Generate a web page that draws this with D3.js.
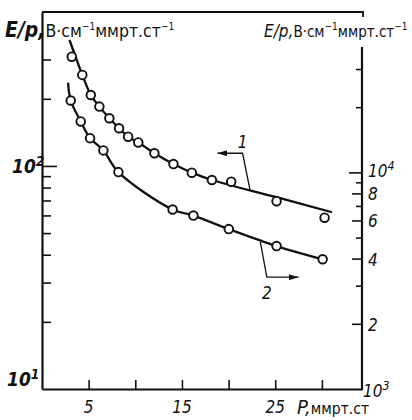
<!DOCTYPE html>
<html><head><meta charset="utf-8">
<script src="https://cdn.jsdelivr.net/npm/d3@7"></script>
<style>
html,body{margin:0;padding:0;background:#fff;}
svg{display:block;}
text{font-family:'Liberation Sans Narrow','DejaVu Sans Condensed','Liberation Sans',sans-serif;fill:#111;}
</style></head><body>
<svg id="chart" width="412" height="420"></svg>
<script>
// Curve 1: E/p read against the left axis; pressure in mm Hg
const pressure1 = [3.19, 4.32, 5.23, 6.15, 7.22, 8.26, 9.23, 10.32, 12.05, 14.09, 16.06, 18.21, 20.28, 25.14, 30.29];
const ePerP1   = [309, 256, 208, 184.5, 163.6, 147.6, 135.3, 127.5, 114, 102, 93.3, 86.5, 85, 69.5, 58.6];
// smooth hand-fitted line through curve 1
const fitP1 = [2.95, 4.32, 5.23, 6.15, 7.22, 8.26, 9.23, 10.32, 12.05, 14.09, 16.06, 18.21, 25.14, 31.08];
const fitE1 = [367, 256, 208, 184.5, 163.6, 147.6, 135.3, 127.5, 114, 102, 93.3, 86.5, 72.4, 62.0];

// Curve 2: E/p read against the right axis
const pressure2 = [3.08, 4.15, 5.15, 6.58, 8.19, 14.0, 16.23, 20.02, 25.14, 30.08];
const ePerP2   = [21470, 17180, 14390, 12630, 10030, 6740, 6318, 5472, 4570, 3972];
const fitP2 = [2.79, 3.08, 4.15, 5.15, 6.58, 8.19, 14.0, 16.23, 20.02, 25.14, 30.08];
const fitE2 = [25980, 21470, 17180, 14390, 12630, 10030, 6740, 6318, 5472, 4570, 3972];

// axis ticks
const xTicks = [5, 10, 15, 20, 25, 30];
const xTickLabels = ["5", "", "15", "", "25", ""];
const leftTicks = [20, 30, 40, 50, 60, 70, 80, 90, 100, 200, 300];
const rightTicks = [2000, 3000, 4000, 5000, 6000, 7000, 8000, 9000, 10000, 20000, 30000];
const rightMajor = [2000, 4000, 6000, 8000, 10000];
const rightDigitTicks = [2000, 4000, 6000, 8000];
const rightDigitLabels = ["2", "4", "6", "8"];

// callouts: [pressure, value] points of each leader line
const callout1 = [[18.8, 114], [21.5, 114], [22.3, 78]];     // left scale
const callout2 = [[23.4, 4773], [24.1, 3281], [27.5, 3281]]; // right scale

const svg = d3.select("#chart");
const mLeft = 42, mRight = 362, mTop = 12, mBottom = 389;

const x = d3.scaleLinear().domain([0, 34.3]).range([mLeft, mRight]);
const yL = d3.scaleLog().domain([10, 490]).range([mBottom, mTop]);
const yR = d3.scaleLog().domain([1000, 55000]).range([mBottom, mTop]);

const ink = "#111";

// left axis (ticks inward)
const gL = svg.append("g").attr("transform", `translate(${mLeft},0)`)
  .call(d3.axisRight(yL).tickValues(leftTicks).tickSize(9).tickSizeOuter(0).tickFormat(""));
gL.select(".domain").attr("stroke", ink).attr("stroke-width", 2.2);
gL.selectAll(".tick line").attr("stroke", ink).attr("stroke-width", 1.6)
  .attr("x2", d => d === 100 ? 15 : 9);

// bottom axis
const gB = svg.append("g").attr("transform", `translate(0,${mBottom})`)
  .call(d3.axisTop(x).tickValues(xTicks).tickSize(9).tickSizeOuter(0).tickFormat(""));
gB.select(".domain").attr("stroke", ink).attr("stroke-width", 2.2);
gB.selectAll(".tick line").attr("stroke", ink).attr("stroke-width", 1.6);

// right axis (ticks outward to the left)
const gR = svg.append("g").attr("transform", `translate(${mRight},0)`)
  .call(d3.axisLeft(yR).tickValues(rightTicks).tickSizeOuter(0).tickFormat(""));
gR.select(".domain").remove();
gR.selectAll(".tick line").attr("stroke", ink).attr("stroke-width", 1.6)
  .attr("x2", d => d === 10000 ? -13 : (rightMajor.includes(d) ? -10 : -6));
gR.append("line").attr("x1", 0).attr("x2", 0).attr("y1", 47).attr("y2", mBottom + 1)
  .attr("stroke", ink).attr("stroke-width", 2.2);

// top frame line with short stub at the right end
svg.append("path").attr("d", `M${mLeft},${mTop}H${mRight + 1}V${mTop + 5}`)
  .attr("fill", "none").attr("stroke", ink).attr("stroke-width", 1.8);

// x tick labels
svg.append("g").selectAll("text").data(xTicks).join("text")
  .attr("x", d => x(d)).attr("y", 413).attr("text-anchor", "middle")
  .attr("font-size", 17).attr("font-style", "italic")
  .text((d, i) => xTickLabels[i]);

// x axis title
const xt = svg.append("text").attr("x", 297).attr("y", 414);
xt.append("tspan").attr("font-size", 20).attr("font-style", "italic").text("P,");
xt.append("tspan").attr("font-size", 15.5).text("ммрт.ст");

// power-of-ten labels
function pow10(xp, yp, base, sup, size, weight) {
  const t = svg.append("text").attr("x", xp).attr("y", yp)
    .attr("font-size", size).attr("font-style", "italic").attr("font-weight", weight);
  t.append("tspan").text(base);
  t.append("tspan").attr("dy", -7).attr("font-size", size * 0.72).text(sup);
}
pow10(12, yL(100) + 7, "10", "2", 19, "bold");
pow10(7, yL(10) - 3, "10", "1", 19, "bold");
pow10(368, yR(10000) + 5, "10", "4", 17, "normal");
pow10(363, yR(1000) + 8, "10", "3", 17, "normal");

svg.append("g").selectAll("text").data(rightDigitTicks).join("text")
  .attr("x", 368).attr("y", d => yR(d) + 7)
  .attr("font-size", 17).attr("font-style", "italic")
  .text((d, i) => rightDigitLabels[i]);

// axis titles
function unitTitle(xp, yp, bold, unitSize) {
  const t = svg.append("text").attr("x", xp).attr("y", yp).attr("font-size", unitSize);
  t.append("tspan").attr("font-style", "italic").attr("font-weight", bold ? "bold" : "normal")
    .attr("font-size", bold ? 21 : 17).text("E/p,");
  t.append("tspan").text("В·см");
  t.append("tspan").attr("dy", -7).attr("font-size", 10).text("−1");
  t.append("tspan").attr("dy", 7).text("ммрт.ст");
  t.append("tspan").attr("dy", -7).attr("font-size", 10).text("−1");
  return t;
}
unitTitle(5, 37, true, 17.5);
unitTitle(264, 37, false, 15);

// fitted curves
const lineL = d3.line().x(d => x(d[0])).y(d => yL(d[1])).curve(d3.curveCatmullRom.alpha(0.5));
const lineR = d3.line().x(d => x(d[0])).y(d => yR(d[1])).curve(d3.curveCatmullRom.alpha(0.5));
svg.append("path").attr("d", lineL(fitP1.map((p, i) => [p, fitE1[i]])))
  .attr("fill", "none").attr("stroke", ink).attr("stroke-width", 2.3);
svg.append("path").attr("d", lineR(fitP2.map((p, i) => [p, fitE2[i]])))
  .attr("fill", "none").attr("stroke", ink).attr("stroke-width", 2.3);

// measured points
svg.append("g").selectAll("circle").data(pressure1).join("circle")
  .attr("cx", d => x(d)).attr("cy", (d, i) => yL(ePerP1[i])).attr("r", 4.3)
  .attr("fill", "#fff").attr("stroke", ink).attr("stroke-width", 1.9);
svg.append("g").selectAll("circle").data(pressure2).join("circle")
  .attr("cx", d => x(d)).attr("cy", (d, i) => yR(ePerP2[i])).attr("r", 4.3)
  .attr("fill", "#fff").attr("stroke", ink).attr("stroke-width", 1.9);

// callout leaders with arrowheads
const defs = svg.append("defs");
defs.append("marker").attr("id", "arr").attr("viewBox", "0 0 10 6")
  .attr("refX", 10).attr("refY", 3).attr("markerWidth", 10).attr("markerHeight", 6)
  .attr("markerUnits", "userSpaceOnUse").attr("orient", "auto-start-reverse")
  .append("path").attr("d", "M0,0L10,3L0,6Z").attr("fill", ink);

const plainL = d3.line().x(d => x(d[0])).y(d => yL(d[1]));
const plainR = d3.line().x(d => x(d[0])).y(d => yR(d[1]));
svg.append("path").attr("d", plainL(callout1)).attr("fill", "none")
  .attr("stroke", ink).attr("stroke-width", 1.3).attr("marker-start", "url(#arr)");
svg.append("path").attr("d", plainR(callout2)).attr("fill", "none")
  .attr("stroke", ink).attr("stroke-width", 1.3).attr("marker-end", "url(#arr)");

svg.append("text").attr("x", x(callout1[1][0])).attr("y", yL(callout1[1][1]) - 5)
  .attr("text-anchor", "middle").attr("font-size", 17).attr("font-style", "italic").text("1");
svg.append("text").attr("x", x(callout2[1][0])).attr("y", yR(callout2[1][1]) + 22)
  .attr("text-anchor", "middle").attr("font-size", 17).attr("font-style", "italic").text("2");
</script>
</body></html>
